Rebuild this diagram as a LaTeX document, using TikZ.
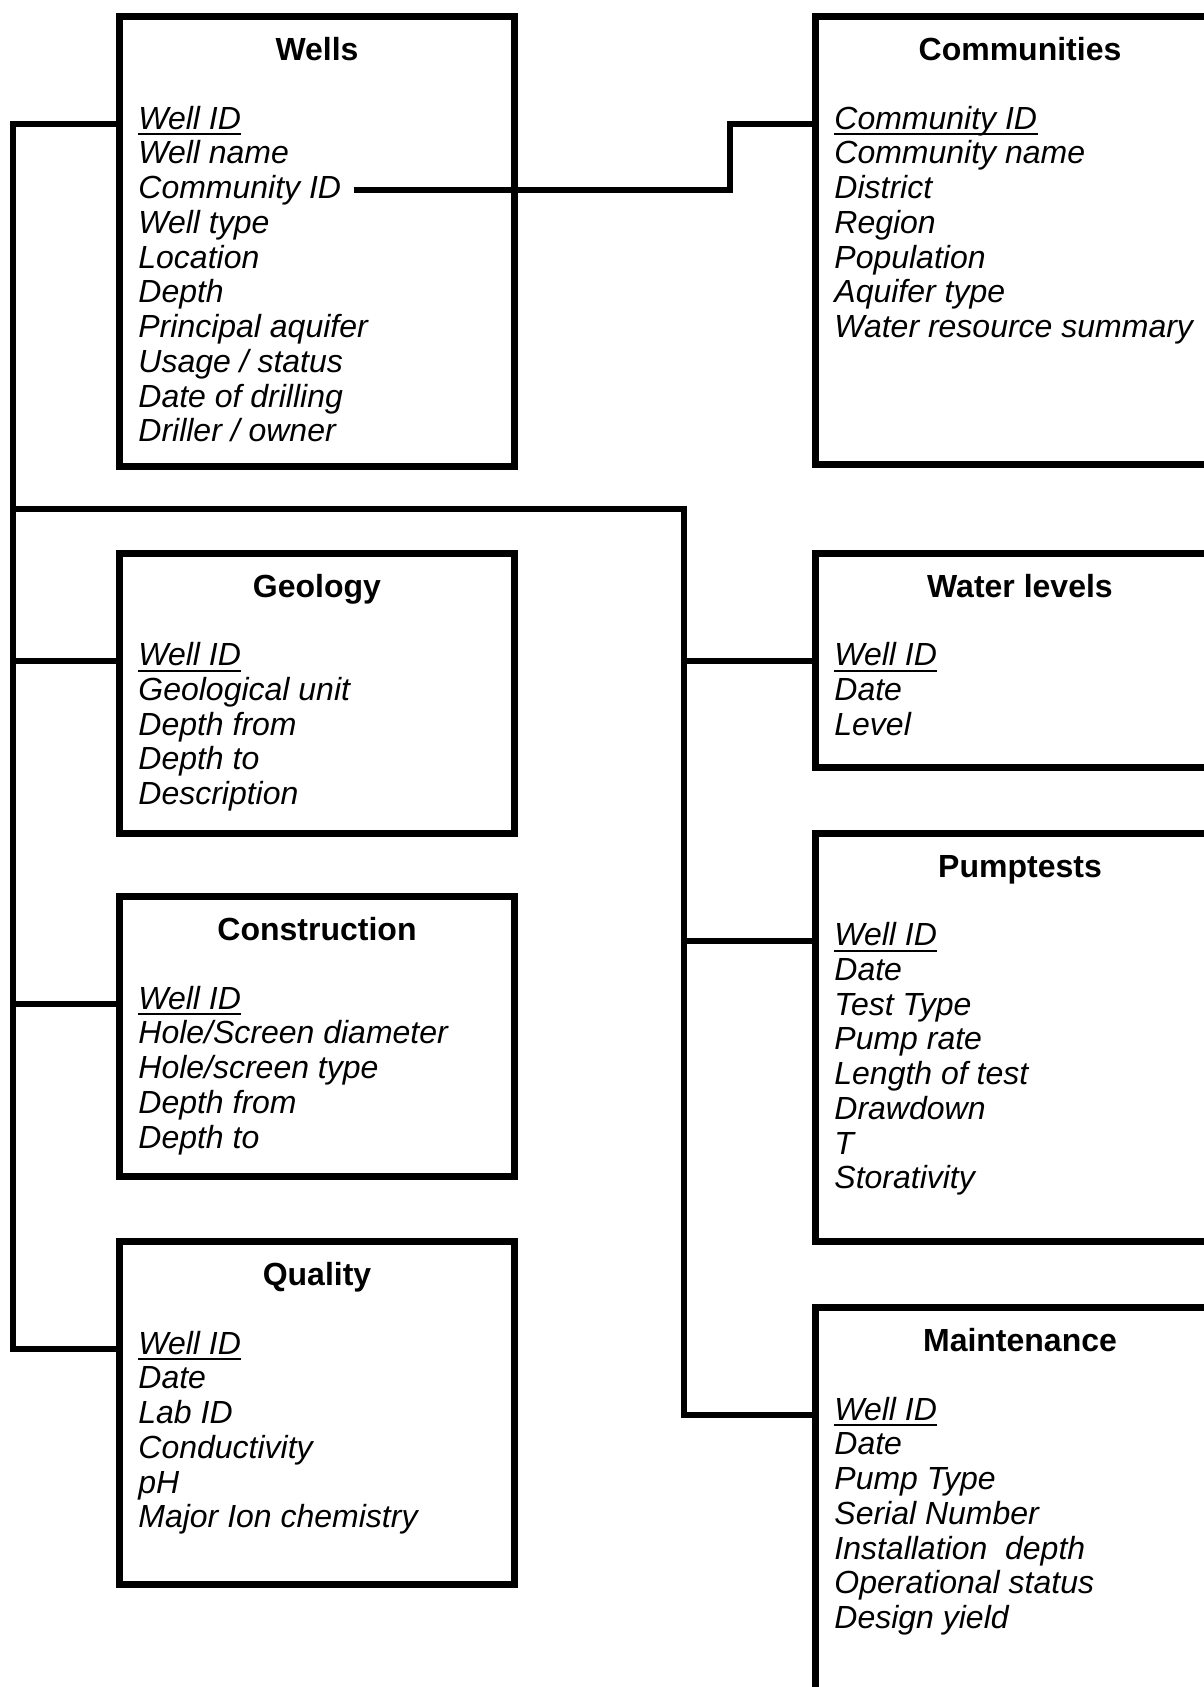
\documentclass[tikz,border=0pt]{standalone}
\usepackage{fontspec}
\setmainfont{Liberation Sans}
\usetikzlibrary{calc}
\tikzset{
  tblbox/.style={draw, line width=3.5pt, rectangle, inner sep=0pt, outer sep=0pt, anchor=north west},
  tbltitle/.style={font=\fontsize{16}{17}\selectfont\bfseries, inner sep=0pt, anchor=base},
  tblfield/.style={font=\fontsize{16}{17}\selectfont\itshape, inner sep=0pt, anchor=base west},
  keyline/.style={line width=1.1pt},
  link/.style={line width=3pt, line join=miter},
}
% box, title, key field (underlined) and the other fields of one table
\newcommand{\dbtable}[8]{%
  \node[tblbox, minimum width=#4*0.5pt, minimum height=#5*0.5pt] (#1) at (#2,#3) {};
  \node[tbltitle] (#1-t) at ($(#1.north)+(0,44)$) {#6};
  \node[tblfield] (#1-1) at ($(#1.north west)+(18.5,112.5)$) {#7};
  \draw[keyline] ([yshift=-2.6pt]#1-1.base west) -- ([yshift=-2.6pt]#1-1.base east);
  \foreach \f [count=\i from 2] in {#8} {
    \node[tblfield] (#1-\i) at ($(#1.north west)+(18.5,{112.5+(\i-1)*34.75})$) {\f};
  }
  \coordinate (#1-in) at ($(#1.west |- #1-1.base)+(0,-5)$);
}

\begin{document}
\begin{tikzpicture}[x=0.5pt, y=-0.5pt]
  \useasboundingbox (0,0) rectangle (1204,1687);
  \fill[white] (0,0) rectangle (1204,1687);
  \clip (0,0) rectangle (1204,1687);

  % left column
  \dbtable{wells}{119.5}{16.5}{395}{450}{Wells}{Well ID}
    {Well name, Community ID, Well type, Location, Depth, Principal aquifer,
     Usage / status, Date of drilling, Driller / owner}
  \dbtable{geology}{119.5}{553}{395}{280}{Geology}{Well ID}
    {Geological unit, Depth from, Depth to, Description}
  \dbtable{construction}{119.5}{896.5}{395}{280}{Construction}{Well ID}
    {Hole/Screen diameter, Hole/screen type, Depth from, Depth to}
  \dbtable{quality}{119.5}{1241.5}{395}{343}{Quality}{Well ID}
    {Date, Lab ID, Conductivity, pH, Major Ion chemistry}

  % right column
  \dbtable{comm}{815.5}{16.5}{409}{448}{Communities}{Community ID}
    {Community name, District, Region, Population, Aquifer type,
     Water resource summary}
  \dbtable{levels}{815.5}{553}{409}{214}{Water levels}{Well ID}
    {Date, Level}
  \dbtable{pumps}{815.5}{833}{409}{408}{Pumptests}{Well ID}
    {Date, Test Type, Pump rate, Length of test, Drawdown, T, Storativity}
  \dbtable{maint}{815.5}{1307.5}{409}{450}{Maintenance}{Well ID}
    {Date, Pump Type, Serial Number, Installation\ \ depth,
     Operational status, Design yield}

  % links
  \coordinate (lx) at (13,0);
  \coordinate (rx) at (684,509);
  \coordinate (cx) at (730,0);
  \draw[link] (wells-in) -- (wells-in -| lx) -- (quality-in -| lx) -- (quality-in);
  \foreach \t in {geology,construction}
    \draw[link] (\t-in -| lx) -- (\t-in);
  \draw[link] (rx -| lx) -- (rx) -- (maint-in -| rx) -- (maint-in);
  \foreach \t in {levels,pumps}
    \draw[link] (\t-in -| rx) -- (\t-in);
  \coordinate (cstart) at ($(wells-3.mid east)+(12,-3)$);
  \draw[link] (cstart) -- (cstart -| cx) -- (comm-in -| cx) -- (comm-in);
\end{tikzpicture}
\end{document}
